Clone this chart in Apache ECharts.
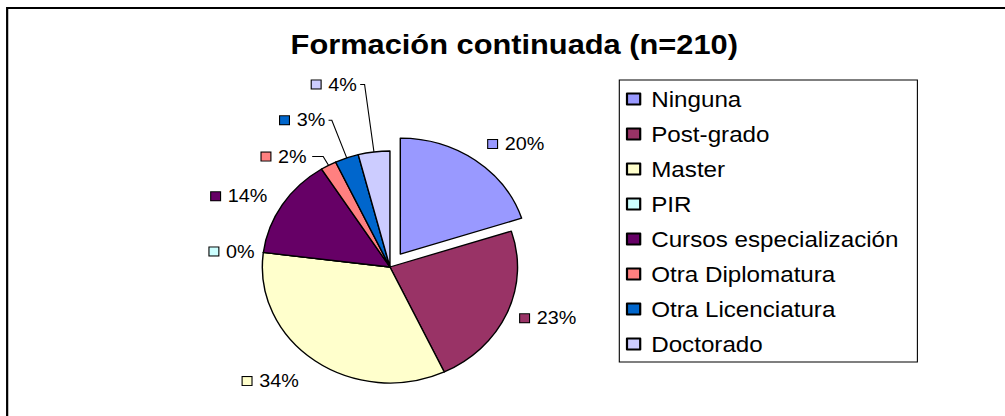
<!DOCTYPE html>
<html>
<head>
    <meta charset="utf-8">
    <title>Formación continuada</title>
    <script src="https://cdn.jsdelivr.net/npm/echarts@6/dist/echarts.min.js"></script>
    <style>
        html, body { margin: 0; padding: 0; background: #fff; overflow: hidden; }
        /* the original picture is a little wider than tall, so the chart is stretched in x */
        #main { width: 914px; height: 416px; transform: scaleX(1.1); transform-origin: 0 0; }
    </style>
</head>
<body>
    <div id="main"></div>
    <script>
        // categories and percentages (n=210)
        var categories = ['Ninguna', 'Post-grado', 'Master', 'PIR', 'Cursos especialización',
                          'Otra Diplomatura', 'Otra Licenciatura', 'Doctorado'];
        var percentValues = [20, 23, 34, 0, 14, 2, 3, 4];
        var sliceColors = ['#9999FF', '#993366', '#FFFFCC', '#CCFFFF', '#660066',
                           '#FF8080', '#0066CC', '#CCCCFF'];
        // label line tweaks per slice: [length, length2, distance, showLine]
        var labelTweaks = [
            [20, 0, 0, false],
            [13, 0, 0, false],
            [25, 0, 0, false],
            [8, 0, 0, false],
            [16, 0, 0, false],
            [10, 10, 5, true],
            [40, 3, 3, true],
            [68, 4, 3, true]
        ];

        var font = "'Liberation Sans', Arial, sans-serif";

        window.onload = function() {
            var myChart = echarts.init(document.getElementById('main'), null, { renderer: 'svg' });

            var rich = { v: { fontSize: 18, color: '#000', fontFamily: font, padding: [0, 0, 0, 7] } };
            var pieData = categories.map(function(name, i) {
                rich['s' + i] = {
                    width: 8, height: 8,
                    backgroundColor: sliceColors[i],
                    borderColor: '#000', borderWidth: 1
                };
                var t = labelTweaks[i];
                return {
                    name: name,
                    value: percentValues[i],
                    selected: i === 0,
                    itemStyle: { color: sliceColors[i] },
                    label: { distanceToLabelLine: t[2] },
                    labelLine: { show: t[3], length: t[0], length2: t[1] }
                };
            });

            var option = {
                animation: false,
                backgroundColor: '#fff',
                title: {
                    text: 'Formación continuada (n=210)',
                    left: 462.5,
                    textAlign: 'center',
                    top: 25,
                    textStyle: { fontFamily: font, fontSize: 28, fontWeight: 'bold', color: '#000' }
                },
                legend: {
                    orient: 'vertical',
                    left: 563,
                    top: 80,
                    padding: [8, 17, 7, 6],
                    borderColor: '#000',
                    borderWidth: 1,
                    itemWidth: 12,
                    itemHeight: 11,
                    itemGap: 13,
                    icon: 'rect',
                    selectedMode: false,
                    textStyle: { fontFamily: font, fontSize: 22, lineHeight: 21, color: '#000', padding: [0, 0, 0, 5] },
                    data: categories
                },
                graphic: [{
                    type: 'rect',
                    shape: { x: 6.5, y: 8, width: 1000, height: 500 },
                    style: { fill: 'none', stroke: '#000', lineWidth: 2 },
                    silent: true
                }],
                series: [{
                    type: 'pie',
                    center: [354.5, 267],
                    radius: 116,
                    startAngle: 90,
                    clockwise: true,
                    selectedMode: 'single',
                    selectedOffset: 16,
                    avoidLabelOverlap: false,
                    itemStyle: { borderColor: '#000', borderWidth: 1.3 },
                    select: { itemStyle: { borderColor: '#000', borderWidth: 1.3 } },
                    emphasis: { disabled: true },
                    label: {
                        show: true,
                        position: 'outside',
                        formatter: function(p) { return '{s' + p.dataIndex + '|}{v|' + p.value + '%}'; },
                        rich: rich
                    },
                    labelLine: { lineStyle: { color: '#000', width: 1 } },
                    data: pieData
                }]
            };
            myChart.setOption(option);
        };
    </script>
</body>
</html>
